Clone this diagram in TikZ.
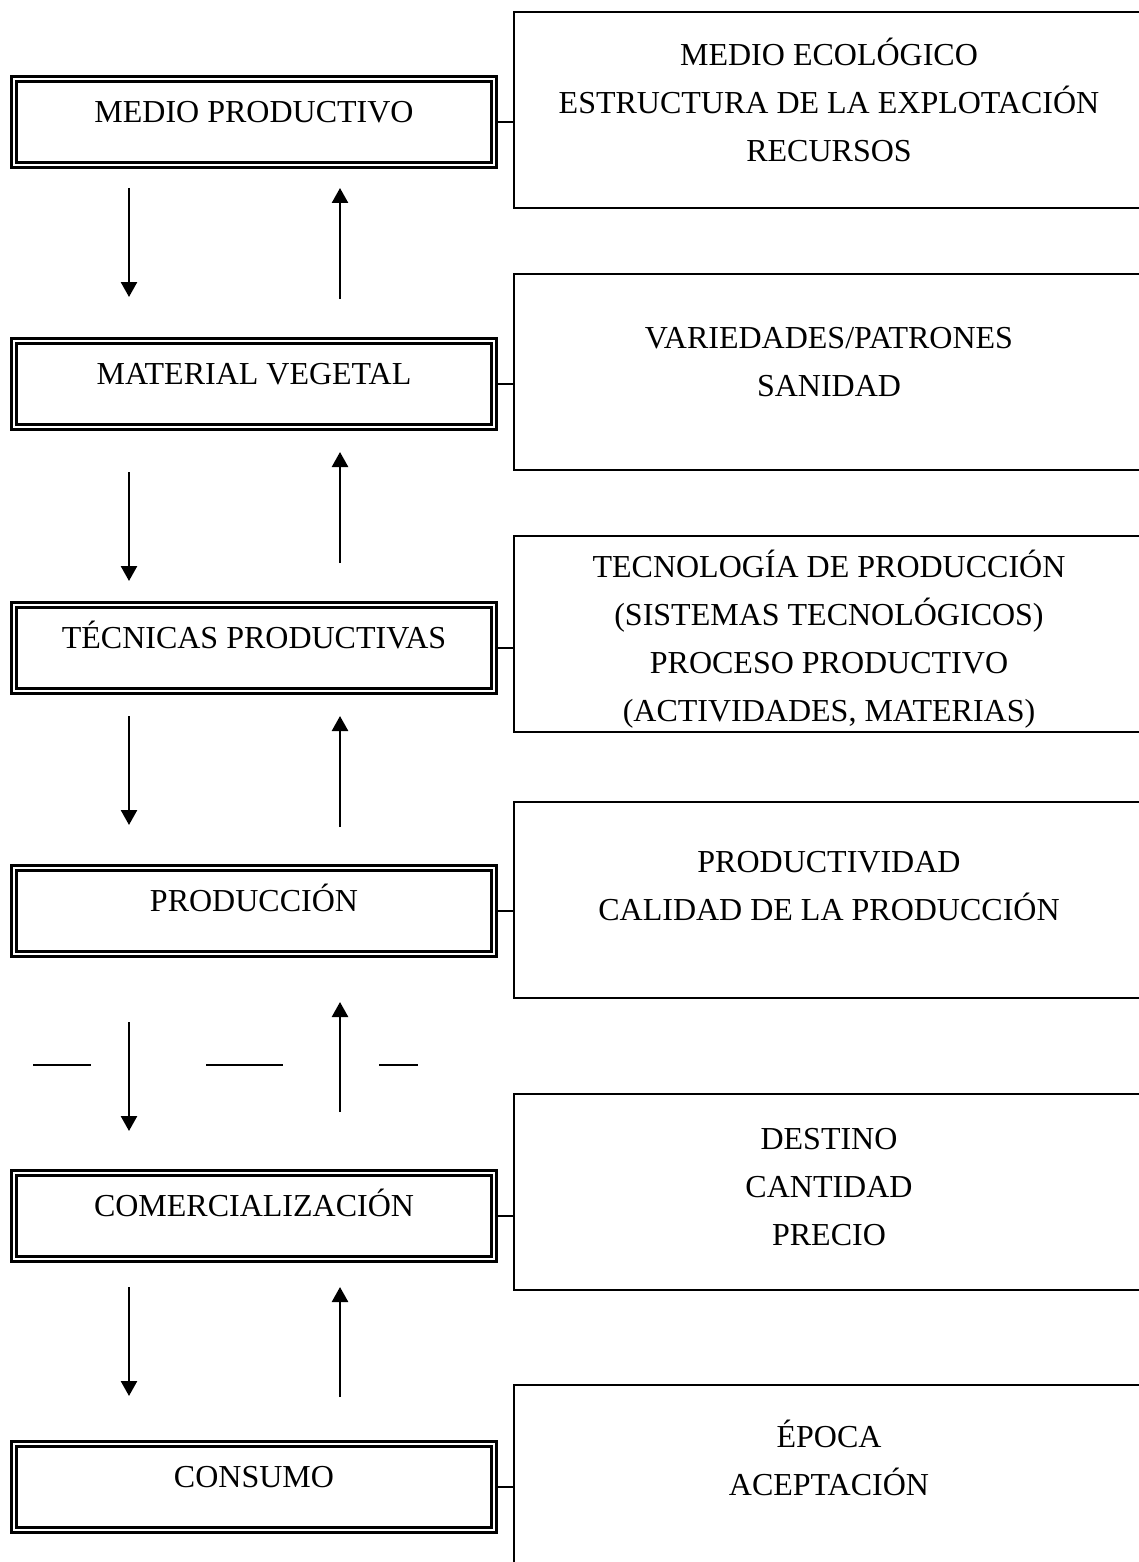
\documentclass[tikz,border=0pt]{standalone}
\usepackage{fontspec}
\setmainfont{Liberation Serif}
\usetikzlibrary{arrows.meta}
\begin{document}
\begin{tikzpicture}[x=1pt,y=-1pt,
  dbox/.style={draw, double, line width=3pt, double distance=2pt, minimum width=480pt, minimum height=86pt, inner sep=0pt, outer sep=0pt},
  rbox/.style={draw, line width=2pt, minimum width=630pt, minimum height=196pt, anchor=north west, inner sep=0pt, outer sep=0pt},
  txt/.style={font=\fontsize{32}{38}\selectfont, anchor=base, inner sep=0pt},
  link/.style={line width=2pt},
  flow/.style={line width=2.5pt, -{Triangle[width=16pt,length=15pt]}},
  dashseg/.style={line width=1.3pt}]
\useasboundingbox (0,0) rectangle (1139,1562);
\clip (0,0) rectangle (1139,1562);

% right boxes
\node[rbox] (r1) at (514,12) {};
\node[rbox] (r2) at (514,274) {};
\node[rbox] (r3) at (514,536) {};
\node[rbox] (r4) at (514,802) {};
\node[rbox] (r5) at (514,1094) {};
\node[rbox] (r6) at (514,1385) {};

% left double boxes
\node[dbox] (b1) at (254,122) {};
\node[dbox] (b2) at (254,384) {};
\node[dbox] (b3) at (254,648) {};
\node[dbox] (b4) at (254,911) {};
\node[dbox] (b5) at (254,1216) {};
\node[dbox] (b6) at (254,1487) {};

% links
\foreach \i in {1,...,6}{
  \draw[link] ([xshift=4pt]b\i.east) -- (b\i.east -| r\i.west);
}

% left texts
\node[txt] (t1) at (254,122.6) {MEDIO PRODUCTIVO};
\node[txt] (t2) at (254,384.6) {MATERIAL VEGETAL};
\node[txt] (t3) at (254,648.6) {TÉCNICAS PRODUCTIVAS};
\node[txt] (t4) at (254,911.6) {PRODUCCIÓN};
\node[txt] (t5) at (254,1216.6) {COMERCIALIZACIÓN};
\node[txt] (t6) at (254,1487.6) {CONSUMO};

% right texts
\node[txt] (r1a) at (829,65.6) {MEDIO ECOLÓGICO};
\node[txt] (r1b) at (829,113.6) {ESTRUCTURA DE LA EXPLOTACIÓN};
\node[txt] (r1c) at (829,161.6) {RECURSOS};
\node[txt] (r2a) at (829,348.6) {VARIEDADES/PATRONES};
\node[txt] (r2b) at (829,396.6) {SANIDAD};
\node[txt] (r3a) at (829,577.6) {TECNOLOGÍA DE PRODUCCIÓN};
\node[txt] (r3b) at (829,625.6) {(SISTEMAS TECNOLÓGICOS)};
\node[txt] (r3c) at (829,673.6) {PROCESO PRODUCTIVO};
\node[txt] (r3d) at (829,721.6) {(ACTIVIDADES, MATERIAS)};
\node[txt] (r4a) at (829,872.6) {PRODUCTIVIDAD};
\node[txt] (r4b) at (829,920.6) {CALIDAD DE LA PRODUCCIÓN};
\node[txt] (r5a) at (829,1149.6) {DESTINO};
\node[txt] (r5b) at (829,1197.6) {CANTIDAD};
\node[txt] (r5c) at (829,1245.6) {PRECIO};
\node[txt] (r6a) at (829,1447.6) {ÉPOCA};
\node[txt] (r6b) at (829,1495.6) {ACEPTACIÓN};

% arrows
\coordinate (d1s) at (129,188);  \coordinate (d1e) at (129,297);
\coordinate (u1s) at (340,299);  \coordinate (u1e) at (340,188);
\coordinate (d2s) at (129,472);  \coordinate (d2e) at (129,581);
\coordinate (u2s) at (340,563);  \coordinate (u2e) at (340,452);
\coordinate (d3s) at (129,716);  \coordinate (d3e) at (129,825);
\coordinate (u3s) at (340,827);  \coordinate (u3e) at (340,716);
\coordinate (d4s) at (129,1022); \coordinate (d4e) at (129,1131);
\coordinate (u4s) at (340,1112); \coordinate (u4e) at (340,1002);
\coordinate (d5s) at (129,1287); \coordinate (d5e) at (129,1396);
\coordinate (u5s) at (340,1397); \coordinate (u5e) at (340,1287);
\foreach \i in {1,...,5}{
  \draw[flow] (d\i s) -- (d\i e);
  \draw[flow] (u\i s) -- (u\i e);
}

% stray dashes
\coordinate (h1a) at (33,1065);  \coordinate (h1b) at (91,1065);
\coordinate (h2a) at (206,1065); \coordinate (h2b) at (283,1065);
\coordinate (h3a) at (379,1065); \coordinate (h3b) at (418,1065);
\draw[dashseg] (h1a) -- (h1b);
\draw[dashseg] (h2a) -- (h2b);
\draw[dashseg] (h3a) -- (h3b);
\end{tikzpicture}
\end{document}
